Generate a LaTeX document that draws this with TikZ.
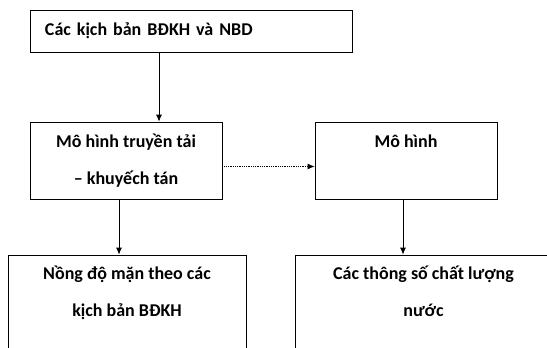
\documentclass[tikz,border=0pt]{standalone}
\usepackage{fontspec}
\setmainfont{Carlito}
\usepackage{tikz}
\usetikzlibrary{arrows.meta, positioning}

\begin{document}
\begin{tikzpicture}[x=1pt, y=1pt,
  box/.style={rectangle, draw=black, line width=0.8pt, fill=white,
              font=\fontsize{18}{37}\selectfont\bfseries, align=center, inner sep=0pt},
  rel/.style={draw=black, line width=0.8pt, -{Latex[length=7pt,width=6pt]}},
  weak/.style={rel, densely dotted}
]
\useasboundingbox (0,0) rectangle (547,-348);

% Boxes
\node[box, minimum width=322, minimum height=42, text width=292, align=left] (scen) at (191,-31) {Các kịch bản BĐKH và NBD};

\node[box, minimum width=192, minimum height=77] (transport) at (126,-160.5) {
  Mô hình truyền tải\\
  -- khuyếch tán
};

\node[box, minimum width=182, minimum height=77, text depth=38] (quality) at (406,-160.5) {Mô hình};

\node[box, minimum width=238, minimum height=96, text depth=24] (salinity) at (127,-303) {
  Nồng độ mặn theo các\\
  kịch bản BĐKH
};

\node[box, minimum width=257, minimum height=96, text depth=24] (params) at (423.5,-303) {
  Các thông số chất lượng\\
  nước
};

% Connectors
\draw[rel] (scen.south -| 159,0) -- (transport.north -| 159,0);
\draw[rel] (transport.south -| 119,0) -- (salinity.north -| 119,0);
\draw[weak] ([yshift=-6]transport.east) -- ([yshift=-6]quality.west);
\draw[rel] (quality.south -| 403,0) -- (params.north -| 403,0);

\end{tikzpicture}
\end{document}
